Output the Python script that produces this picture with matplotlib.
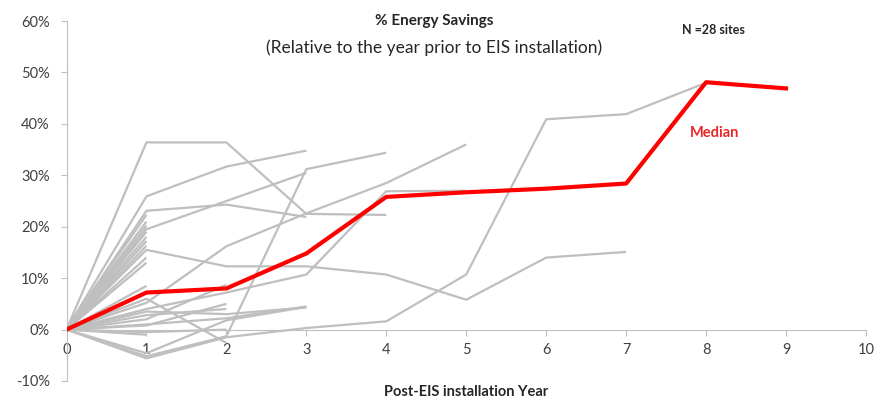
import matplotlib
matplotlib.use("Agg")
import matplotlib.pyplot as plt

# --- data (percent savings by post-EIS year) ---
sites = [
    [0, 36.4, 36.4, 22.5, 22.3],
    [0, 25.9, 31.7, 34.8],
    [0, 23.1, 24.3, 21.9],
    [0, 19.5, 25.0, 30.5],
    [0, 5.2, 16.2, 22.6, 28.5, 36.0],
    [0, -5.2, -1.3, 31.2, 34.4],
    [0, -5.6, -1.5, 0.3, 1.6, 10.7, 40.9, 41.9, 48.0],
    [0, 15.5, 12.3, 12.3, 10.7, 5.8, 14.0, 15.1],
    [0, 4.0, 7.2, 10.7, 26.9, 27.0],
    [0, 2.0, 8.7],
    [0, 3.5, 3.0, 4.3],
    [0, 1.0, 2.2, 4.5],
    [0, 6.0, -2.6],
    [0, -0.5, 0.0],
    [0, -4.6, 1.8, 4.4],
    [0, 22.3],
    [0, 21.0],
    [0, 20.2],
    [0, 19.0],
    [0, 18.0],
    [0, 17.2],
    [0, 16.3],
    [0, 14.0],
    [0, 13.0],
    [0, 8.5],
    [0, -1.0],
    [0, 0.8, 5.0],
    [0, 2.8, 4.0],
]
median = [0, 7.2, 8.0, 14.8, 25.8, 26.7, 27.4, 28.4, 48.1, 46.9]

xticks = list(range(0, 11))
yticks = [-10, 0, 10, 20, 30, 40, 50, 60]
ytick_labels = [f"{v}%" for v in yticks]

GRAY = "#BFBFBF"
TXT = "#404040"
plt.rcParams["font.family"] = ["Lato", "DejaVu Sans"]

fig = plt.figure(figsize=(8.75, 4.05), dpi=100)
ax = fig.add_axes([0.076, 0.0593, 0.9137, 0.8887])

for s in sites:
    ax.plot(range(len(s)), s, color=GRAY, lw=1.6, solid_capstyle="butt", zorder=2)
ax.plot(range(len(median)), median, color="#FF0000", lw=3.0, zorder=3)

ax.set_xlim(0, 10)
ax.set_ylim(-10, 60)
ax.set_xticks(xticks)
ax.set_xticklabels([str(v) for v in xticks])
ax.set_yticks(yticks)
ax.set_yticklabels(ytick_labels)

for side in ("top", "right"):
    ax.spines[side].set_visible(False)
ax.spines["bottom"].set_position(("data", 0))
ax.spines["bottom"].set_color(GRAY)
ax.spines["left"].set_color(GRAY)
ax.tick_params(axis="both", colors=GRAY, labelcolor=TXT, labelsize=10.5, length=4)
ax.tick_params(axis="x", pad=6)
ax.tick_params(axis="y", pad=8)

ax.text(0.46, 1.0, "% Energy Savings", transform=ax.transAxes, ha="center",
        va="center", fontsize=11, fontweight="bold", color="#262626")
ax.text(0.46, 0.925, "(Relative to the year prior to EIS installation)",
        transform=ax.transAxes, ha="center", va="center", fontsize=12.5, color="#262626")
ax.text(0.77, 0.975, "N =28 sites", transform=ax.transAxes, ha="left",
        va="center", fontsize=9, fontweight="bold", color="#262626")
ax.text(0.78, 0.69, "Median", transform=ax.transAxes, ha="left", va="center",
        fontsize=10.5, fontweight="bold", color="#E8272A")
fig.text(0.533, 0.032, "Post-EIS installation Year", ha="center", va="center",
         fontsize=10.5, fontweight="bold", color="#262626")

fig.savefig("out.png", dpi=100)
